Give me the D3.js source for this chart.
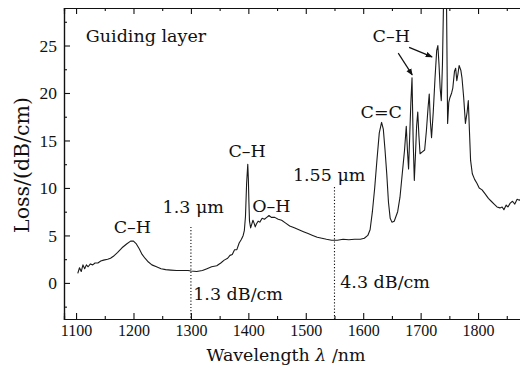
<!DOCTYPE html>
<html>
<head>
<meta charset="utf-8">
<script src="https://cdn.jsdelivr.net/npm/d3@7"></script>
<style>
    body { margin: 0; background: #fff; }
    svg text { font-family: "DejaVu Serif", "Liberation Serif", serif; fill: #111; }
</style>
</head>
<body>
<div id="chart"></div>
<script>
// Loss spectrum of the guiding layer
const wavelength = [
    1103, 1106, 1109, 1112, 1115, 1118, 1121, 1125, 1129, 1133, 1138, 1143, 1148, 1155, 1160, 1165,
    1172, 1180, 1188, 1195, 1200, 1205, 1210, 1215, 1220, 1226, 1232, 1240, 1248, 1256, 1265, 1275,
    1285, 1295, 1300, 1310, 1320, 1328, 1336, 1345, 1352, 1358, 1364, 1368, 1372, 1376, 1380, 1384,
    1388, 1391, 1393, 1395, 1397, 1399, 1400, 1401, 1402, 1404, 1406, 1408, 1410, 1412, 1414, 1417,
    1420, 1424, 1428, 1432, 1436, 1440, 1446, 1452, 1458, 1465, 1472, 1480, 1488, 1496, 1504, 1512,
    1520, 1528, 1536, 1545, 1555, 1565, 1575, 1585, 1595, 1602, 1608, 1612, 1616, 1620, 1624, 1628,
    1632, 1635, 1638, 1641, 1644, 1647, 1650, 1654, 1660, 1664, 1668, 1672, 1675, 1677, 1679, 1681,
    1683, 1685, 1687, 1689, 1691, 1693, 1695, 1697, 1699, 1703, 1707, 1710, 1713, 1715, 1717, 1719,
    1722, 1725, 1728, 1730, 1732, 1734, 1736, 1738, 1740, 1743, 1745, 1747, 1749, 1751, 1754, 1756,
    1759, 1761, 1763, 1765, 1767, 1770, 1772, 1775, 1778, 1781, 1783, 1785, 1787, 1790, 1794, 1798,
    1802, 1807, 1812, 1818, 1823, 1828, 1833, 1838, 1842, 1845, 1849, 1852, 1856, 1860, 1864, 1868,
    1872, 1876
];
const loss = [
    1.0, 1.6, 1.2, 1.9, 1.5, 1.9, 1.7, 2.0, 1.9, 2.1, 2.1, 2.3, 2.4, 2.5, 2.6, 2.8,
    3.2, 3.7, 4.1, 4.4, 4.4, 4.1, 3.6, 3.0, 2.6, 2.2, 1.9, 1.7, 1.5, 1.4, 1.35, 1.3,
    1.3, 1.3, 1.25, 1.2, 1.3, 1.5, 1.7, 1.8, 2.1, 2.4, 2.6, 2.9, 3.0, 3.5, 3.5, 4.2,
    4.6, 5.0, 5.5, 7.0, 10.5, 12.5, 11.0, 8.5, 6.5, 5.8, 6.2, 6.6, 6.3, 5.9, 6.2, 6.5,
    6.4, 6.8, 6.7, 6.9, 7.1, 6.9, 6.9, 6.7, 6.6, 6.3, 6.0, 5.8, 5.6, 5.4, 5.2, 5.0,
    4.8, 4.7, 4.6, 4.5, 4.5, 4.6, 4.55, 4.6, 4.6, 4.7, 5.0, 5.6, 7.5, 10.0, 13.0, 15.8,
    16.9, 16.2, 14.0, 11.5, 8.5, 6.8, 6.4, 6.5, 7.5, 9.0, 11.5, 14.0, 16.5, 14.0, 12.0, 15.5,
    19.0, 21.6, 15.0, 10.8, 13.5, 16.5, 18.0, 15.5, 13.6, 13.8, 14.0, 16.0, 18.5, 19.9, 17.0, 15.3,
    18.0, 21.5, 24.5, 25.0, 23.0, 20.5, 19.2, 23.0, 30.0, 31.0, 30.0, 16.8, 19.0, 19.5, 20.0, 20.5,
    22.3, 22.6, 21.3, 22.0, 22.9, 22.4, 21.6, 19.5, 16.8, 18.0, 19.2, 16.0, 12.9, 11.5, 10.9, 10.5,
    10.0, 9.8, 9.4, 8.9, 8.6, 8.3, 8.0, 7.9, 8.0, 7.7, 8.2, 8.0, 8.4, 8.6, 8.3, 8.8,
    8.7, 8.9
];

// Axis ticks
const xTicks = [1100, 1200, 1300, 1400, 1500, 1600, 1700, 1800];
const xMinorTicks = [1150, 1250, 1350, 1450, 1550, 1650, 1750, 1850];
const yTicks = [0, 5, 10, 15, 20, 25];
const yMinorTicks = [-2.5, 2.5, 7.5, 12.5, 17.5, 22.5, 27.5];

// Marked wavelengths (dotted lines) and where each line starts
const markerWavelengths = [1300, 1550];
const markerTop = [5.9, 10.1];

const width = 520;
const height = 368;
const plot = { left: 64, top: 8, right: 524, bottom: 319 };
const serif = '"DejaVu Serif", "Liberation Serif", serif';

const x = d3.scaleLinear().domain([1079, 1880]).range([plot.left, plot.right]);
const y = d3.scaleLinear().domain([-3.8, 28.95]).range([plot.bottom, plot.top]);

const svg = d3.select('#chart')
    .append('svg')
    .attr('width', width)
    .attr('height', height)
    .attr('viewBox', `0 0 ${width} ${height}`);

const defs = svg.append('defs');
defs.append('clipPath')
    .attr('id', 'plotClip')
    .append('rect')
    .attr('x', plot.left)
    .attr('y', plot.top)
    .attr('width', plot.right - plot.left)
    .attr('height', plot.bottom - plot.top);

defs.append('marker')
    .attr('id', 'arrow')
    .attr('viewBox', '0 0 10 10')
    .attr('refX', 9)
    .attr('refY', 5)
    .attr('markerWidth', 7)
    .attr('markerHeight', 7)
    .attr('markerUnits', 'userSpaceOnUse')
    .attr('orient', 'auto')
    .append('path')
    .attr('d', 'M0,1 L10,5 L0,9 Z')
    .attr('fill', '#111');

// Spectrum
const points = wavelength.map((w, i) => [w, loss[i]]);
const line = d3.line()
    .x(d => x(d[0]))
    .y(d => y(d[1]));

svg.append('path')
    .datum(points)
    .attr('clip-path', 'url(#plotClip)')
    .attr('d', line)
    .attr('fill', 'none')
    .attr('stroke', '#1a1a1a')
    .attr('stroke-width', 1.1)
    .attr('stroke-linejoin', 'round');

// Axes: inward ticks on bottom, top and left
const xBottom = d3.axisBottom(x).tickValues(xTicks).tickSize(-6).tickFormat(d3.format('d'));
const xBottomMinor = d3.axisBottom(x).tickValues(xMinorTicks).tickSize(-3).tickFormat('');
const xTop = d3.axisTop(x).tickValues(xTicks).tickSize(-6).tickFormat('');
const xTopMinor = d3.axisTop(x).tickValues(xMinorTicks).tickSize(-3).tickFormat('');
const yLeft = d3.axisLeft(y).tickValues(yTicks).tickSize(-6).tickFormat(d3.format('d'));
const yLeftMinor = d3.axisLeft(y).tickValues(yMinorTicks).tickSize(-3).tickFormat('');

function drawAxis(axis, transform) {
    const g = svg.append('g')
        .attr('transform', transform)
        .call(axis);
    g.select('.domain').attr('stroke', '#111').attr('stroke-width', 1.2);
    g.selectAll('.tick line').attr('stroke', '#111').attr('stroke-width', 1.1);
    return g;
}

const gx = drawAxis(xBottom, `translate(0,${plot.bottom})`);
drawAxis(xBottomMinor, `translate(0,${plot.bottom})`);
drawAxis(xTop, `translate(0,${plot.top})`);
drawAxis(xTopMinor, `translate(0,${plot.top})`);
const gy = drawAxis(yLeft, `translate(${plot.left},0)`);
drawAxis(yLeftMinor, `translate(${plot.left},0)`);

gx.selectAll('.tick text')
    .attr('y', 6)
    .attr('dy', '0.71em')
    .style('font-size', '16px')
    .style('font-family', '"Liberation Serif", serif');

gy.selectAll('.tick text')
    .attr('x', -7)
    .style('font-size', '17.5px')
    .style('font-family', '"Liberation Serif", serif');

// Axis titles
const xTitle = svg.append('text')
    .attr('x', 286)
    .attr('y', 361)
    .attr('text-anchor', 'middle')
    .style('font-family', serif)
    .style('font-size', '17.4px');
xTitle.append('tspan').text('Wavelength ');
xTitle.append('tspan').style('font-style', 'italic').text('λ');
xTitle.append('tspan').text(' /nm');

svg.append('text')
    .attr('transform', 'translate(29,165) rotate(-90)')
    .attr('text-anchor', 'middle')
    .style('font-family', serif)
    .style('font-size', '20.5px')
    .text('Loss/(dB/cm)');

// Dotted marker lines
markerWavelengths.forEach((w, i) => {
    svg.append('line')
        .attr('x1', x(w))
        .attr('x2', x(w))
        .attr('y1', y(markerTop[i]))
        .attr('y2', plot.bottom)
        .attr('stroke', '#111')
        .attr('stroke-width', 1.1)
        .attr('stroke-dasharray', '1.2,2');
});

// Annotations (data coordinates)
const labels = [
    { text: 'Guiding layer', w: 1117, l: 25.4, anchor: 'start' },
    { text: 'C–H', w: 1198, l: 5.26, anchor: 'middle' },
    { text: '1.3 μm', w: 1304, l: 7.36, anchor: 'middle' },
    { text: '1.3 dB/cm', w: 1304, l: -1.8, anchor: 'start' },
    { text: 'C–H', w: 1398, l: 13.26, anchor: 'middle' },
    { text: 'O–H', w: 1406.6, l: 7.47, anchor: 'start' },
    { text: '1.55 μm', w: 1540.7, l: 10.73, anchor: 'middle' },
    { text: '4.3 dB/cm', w: 1560, l: -0.54, anchor: 'start' },
    { text: 'C=C', w: 1631.4, l: 17.37, anchor: 'middle' },
    { text: 'C–H', w: 1648.8, l: 25.37, anchor: 'middle' }
];

labels.forEach(d => {
    svg.append('text')
        .attr('x', x(d.w))
        .attr('y', y(d.l))
        .attr('text-anchor', d.anchor)
        .style('font-family', serif)
        .style('font-size', '17.5px')
        .text(d.text);
});

// Arrows pointing at the C-H overtone peaks
const arrows = [
    { from: [1661, 24.2], to: [1685.4, 21.9] },
    { from: [1680, 24.8], to: [1720, 23.8] }
];
arrows.forEach(a => {
    svg.append('line')
        .attr('x1', x(a.from[0]))
        .attr('y1', y(a.from[1]))
        .attr('x2', x(a.to[0]))
        .attr('y2', y(a.to[1]))
        .attr('stroke', '#111')
        .attr('stroke-width', 1.2)
        .attr('marker-end', 'url(#arrow)');
});
</script>
</body>
</html>
